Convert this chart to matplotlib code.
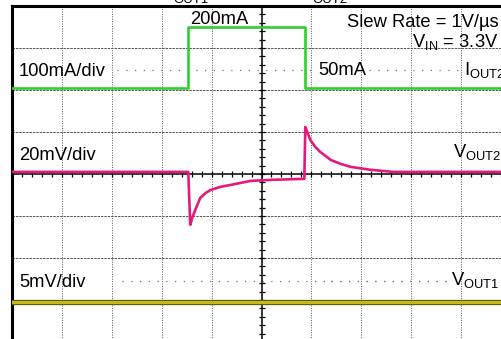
import matplotlib.pyplot as plt
import numpy as np

plt.rcParams['font.family'] = ['Liberation Sans', 'DejaVu Sans']
plt.rcParams['mathtext.default'] = 'regular'

# Scope capture, time axis in screen divisions
t_iout2 = [0, 3.53, 3.53, 5.88, 5.88, 10]
iout2_mA = [50, 50, 196, 196, 50, 50]

t_vout2 = [0, 3.53, 3.55, 3.57, 3.61, 3.67, 3.77, 3.88, 3.98, 4.18, 4.38, 4.78,
           5.18, 5.86, 5.88, 5.92, 5.98, 6.08, 6.18, 6.39, 6.59, 6.79, 7.19, 7.65, 10]
vout2_mV = [0, 0, -13.3, -25.2, -21.9, -18.1, -12.4, -10.0, -8.6, -7.1, -6.2, -4.3,
            -3.8, -3.3, 21.4, 19.0, 15.2, 11.9, 9.5, 5.7, 3.8, 2.4, 1.0, 0, 0]

t_vout1 = [0, 10]
vout1_mV = [0, 0]

# channel scale (per div) and screen position of zero (div)
iout2_scale, iout2_pos = 100.0, 5.55
vout2_scale, vout2_pos = 20.0, 4.05
vout1_scale, vout1_pos = 5.0, 0.95

fig = plt.figure(figsize=(5.02, 3.39), dpi=100)
ax = fig.add_axes([12.5 / 502, -3 / 339, 498 / 502, 336 / 339])
ax.set_xlim(0, 10)
ax.set_ylim(0, 8)
ax.set_xticks([])
ax.set_yticks([])
for s in ['right', 'bottom']:
    ax.spines[s].set_visible(False)
for s in ['left', 'top']:
    ax.spines[s].set_linewidth(2.2)

# graticule
for gx in range(1, 10):
    if gx != 5:
        ax.axvline(gx, color='#555555', lw=0.7, ls=(0, (1, 1.5)), zorder=1)
for gy in range(1, 8):
    if gy != 4:
        ax.axhline(gy, color='#555555', lw=0.7, ls=(0, (2.5, 1)), zorder=1)
ax.axvline(5, color='black', lw=1.1, zorder=2)
ax.axhline(4, color='black', lw=1.1, zorder=2)
ticks = np.arange(0, 10.01, 0.2)
ax.plot(ticks, np.full_like(ticks, 4), ls='', marker='|', ms=5, mew=0.9, color='black', zorder=2)
vticks = np.arange(0, 8.01, 0.2)
ax.plot(np.full_like(vticks, 5), vticks, ls='', marker='_', ms=5, mew=0.9, color='black', zorder=2)

# sparse reference dots
ax.plot([2.1, 6.05], [6.48, 6.48], color='#777777', lw=0.9, ls=(0, (1, 6)), zorder=1)
ax.plot([7.15, 8.95], [6.48, 6.48], color='#777777', lw=0.9, ls=(0, (1, 6)), zorder=1)
ax.plot([6.4, 8.7], [1.45, 1.45], color='#777777', lw=0.9, ls=(0, (1, 6)), zorder=1)
ax.plot([6.4, 8.7], [1.45, 1.45], color='#777777', lw=0.9, ls=(0, (1, 6)), zorder=1)
ax.plot([2.2, 6.4], [1.45, 1.45], color='#777777', lw=0.9, ls=(0, (1, 6)), zorder=1)

# traces
ax.plot(t_vout1, np.array(vout1_mV) / vout1_scale + vout1_pos, color='#5e5a10', lw=3.8, zorder=3)
ax.plot(t_vout1, np.array(vout1_mV) / vout1_scale + vout1_pos + 0.01, color='#c2bb1a', lw=2.2, zorder=3)
ax.plot(t_iout2, np.array(iout2_mA) / iout2_scale + iout2_pos, color='#2fcf2f', lw=1.9, zorder=3)
ax.plot(t_vout2, np.array(vout2_mV) / vout2_scale + vout2_pos, color='#e3197c', lw=1.9, zorder=3)

fs = 13.2
ax.text(0.13, 6.33, '100mA/div', fontsize=fs, va='baseline')
ax.text(3.57, 7.57, '200mA', fontsize=fs, va='baseline')
ax.text(9.76, 7.51, 'Slew Rate = 1V/\u00b5s', fontsize=fs, va='baseline', ha='right')
ax.text(9.76, 7.03, 'V$_{IN}$ = 3.3V', fontsize=fs, va='baseline', ha='right')
ax.text(6.15, 6.36, '50mA', fontsize=fs, va='baseline')
ax.text(9.06, 6.36, 'I$_{OUT2}$', fontsize=fs, va='baseline', clip_on=False)
ax.text(0.13, 4.33, '20mV/div', fontsize=fs, va='baseline')
ax.text(8.84, 4.40, 'V$_{OUT2}$', fontsize=fs, va='baseline')
ax.text(0.13, 1.32, '5mV/div', fontsize=fs, va='baseline')
ax.text(8.80, 1.36, 'V$_{OUT1}$', fontsize=fs, va='baseline')

# title line, cut off at the top of the picture
ax.text(3.23, 8.07, 'OUT1', fontsize=9.5, va='baseline', clip_on=False)
ax.text(6.02, 8.07, 'OUT2', fontsize=9.5, va='baseline', clip_on=False)

fig.savefig('out.png', dpi=100)
